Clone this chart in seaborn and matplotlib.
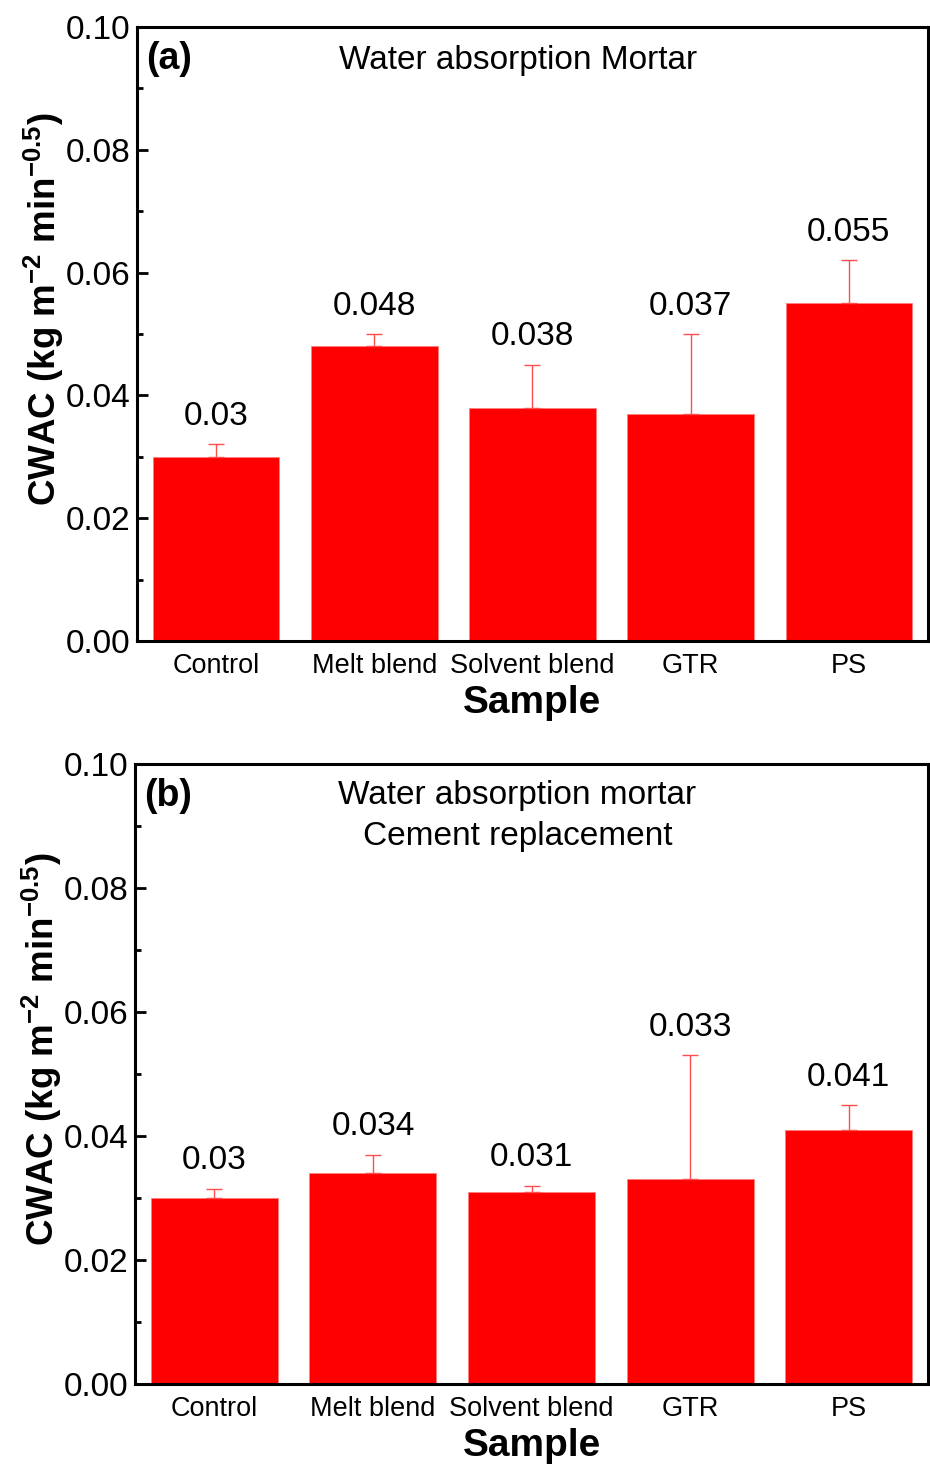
import pandas as pd
import numpy as np
import seaborn as sns
import matplotlib
matplotlib.use('Agg')
import matplotlib.pyplot as plt
from matplotlib.ticker import MultipleLocator, AutoMinorLocator

# Data
samples = ['Control', 'Melt blend', 'Solvent blend', 'GTR', 'PS']
cwac_mortar = [0.030, 0.048, 0.038, 0.037, 0.055]
err_mortar = [0.002, 0.002, 0.007, 0.013, 0.007]
labels_mortar = ['0.03', '0.048', '0.038', '0.037', '0.055']

cwac_cement = [0.030, 0.034, 0.031, 0.033, 0.041]
err_cement = [0.0015, 0.003, 0.001, 0.020, 0.004]
labels_cement = ['0.03', '0.034', '0.031', '0.033', '0.041']

sns.set_style('ticks')
plt.rcParams['font.family'] = ['Liberation Sans', 'DejaVu Sans']
plt.rcParams['mathtext.fontset'] = 'custom'
plt.rcParams['mathtext.rm'] = 'Liberation Sans'
plt.rcParams['mathtext.bf'] = 'Liberation Sans:bold'
plt.rcParams['text.color'] = 'black'
plt.rcParams['axes.labelcolor'] = 'black'
plt.rcParams['xtick.color'] = 'black'
plt.rcParams['ytick.color'] = 'black'
plt.rcParams['axes.edgecolor'] = 'black'

BAR_COLOR = '#ff0000'


def draw_panel(ax, values, errors, labels, tag, title, title_y):
    '''
    One bar panel with upward-only error bars and value labels.
    '''
    df = pd.DataFrame({'Sample': samples, 'CWAC': values})
    sns.barplot(data=df, x='Sample', y='CWAC', order=samples, color=BAR_COLOR,
                saturation=1, width=0.8, errorbar=None, ax=ax,
                edgecolor='#ff8080', linewidth=0.6)

    x = np.arange(len(samples))
    ax.errorbar(x, values, yerr=[np.zeros(len(values)), errors], fmt='none',
                ecolor='#ff4d4d', elinewidth=1.0, capsize=6, capthick=1.0)

    # Value labels above the error bars
    for xi, v, e, lab in zip(x, values, errors, labels):
        ax.annotate(lab, (xi, v + e), xytext=(0, 20), textcoords='offset points',
                    ha='center', va='center', fontsize=24)

    ax.set_xlim(-0.5, 4.5)
    ax.set_ylim(0, 0.1)
    ax.yaxis.set_major_locator(MultipleLocator(0.02))
    ax.yaxis.set_minor_locator(AutoMinorLocator(2))
    ax.yaxis.set_major_formatter(lambda v, pos: f'{v:.2f}')

    ax.tick_params(axis='both', which='major', direction='in', length=8, width=2)
    ax.tick_params(axis='y', which='minor', direction='in', length=4, width=2)
    ax.tick_params(axis='y', labelsize=24, pad=5)
    ax.tick_params(axis='x', labelsize=19.5, pad=9)
    ax.tick_params(top=False, right=False)

    for s in ax.spines.values():
        s.set_visible(True)
        s.set_linewidth(2.2)

    ax.set_xlabel('Sample', fontsize=28, fontweight='bold', labelpad=4)
    ax.set_ylabel(r'CWAC (kg m$^{\mathbf{-2}}$ min$^{\mathbf{-0.5}}$)',
                  fontsize=26.5, fontweight='bold')
    ax.yaxis.set_label_coords(-0.09, 0.54)

    ax.text(0.011, 0.948, tag, transform=ax.transAxes, fontsize=27,
            fontweight='bold', ha='left', va='center')
    ax.text(0.482, title_y, title, transform=ax.transAxes, fontsize=24,
            ha='center', va='center', linespacing=1.4)


fig = plt.figure(figsize=(9.3, 14.65), dpi=100)
ax1 = fig.add_axes([0.1473, 0.5625, 0.8505, 0.4191])
ax2 = fig.add_axes([0.1452, 0.0553, 0.8527, 0.4232])

draw_panel(ax1, cwac_mortar, err_mortar, labels_mortar, '(a)',
           'Water absorption Mortar', 0.945)
draw_panel(ax2, cwac_cement, err_cement, labels_cement, '(b)',
           'Water absorption mortar\nCement replacement', 0.916)

fig.savefig('out.png', dpi=100)
